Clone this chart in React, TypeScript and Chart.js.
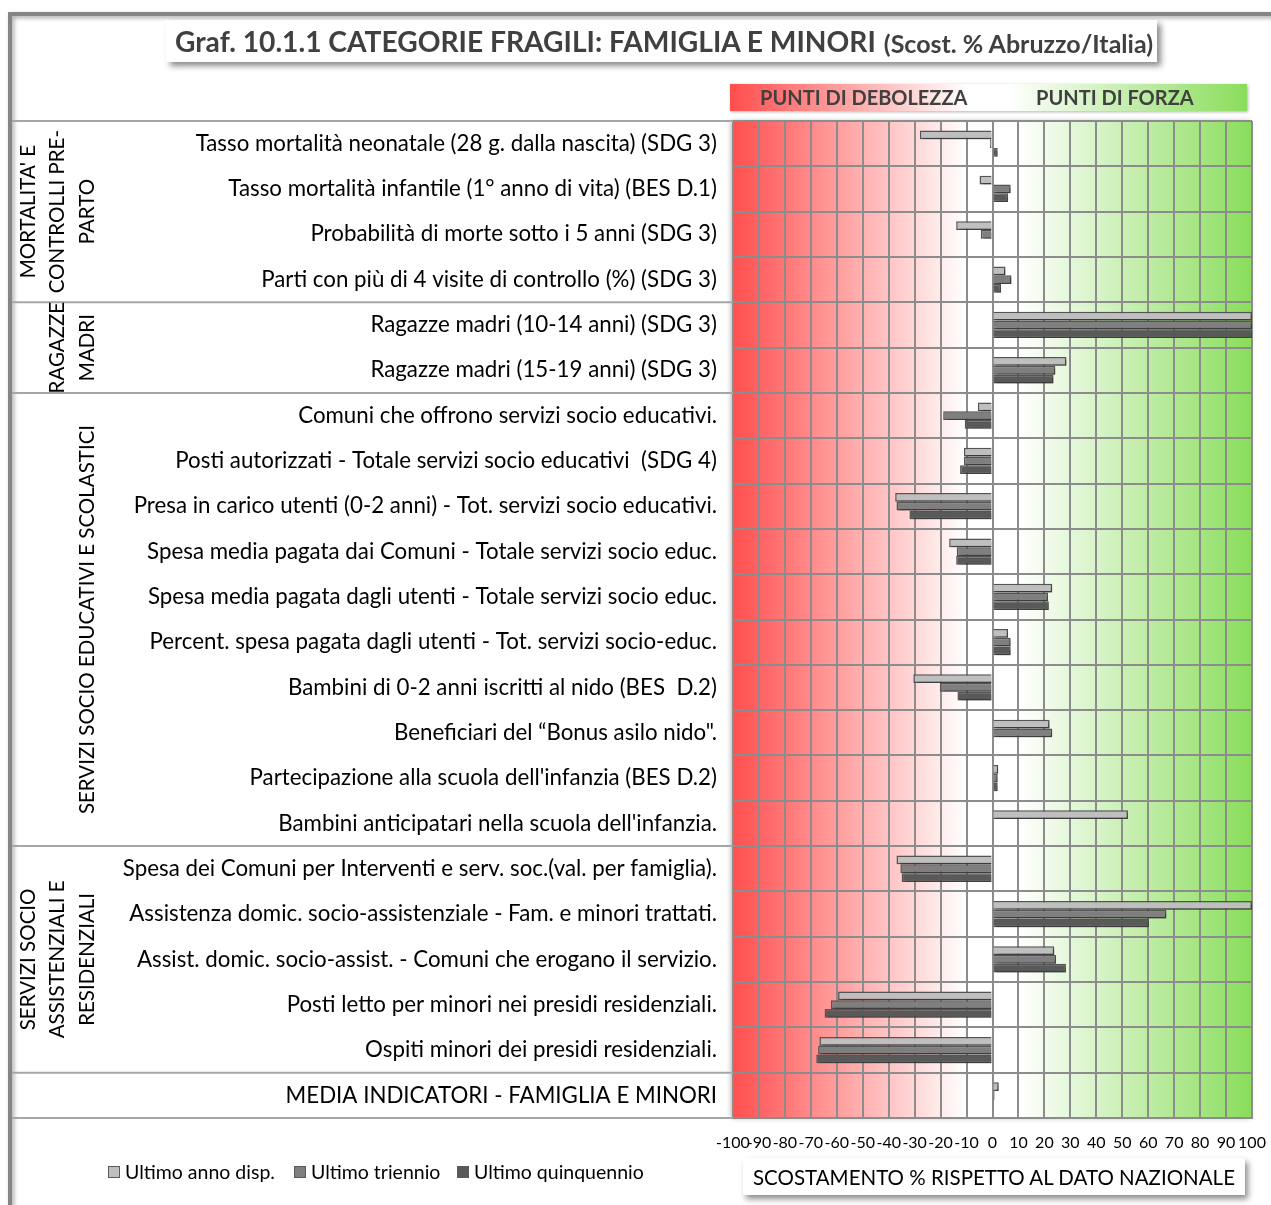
import React, { useEffect, useRef } from "react";
import { Chart, registerables } from "chart.js";

Chart.register(...registerables);

const categories = [
  "Tasso mortalità neonatale (28 g. dalla nascita) (SDG 3)",
  "Tasso mortalità infantile (1° anno di vita) (BES D.1)",
  "Probabilità di morte sotto i 5 anni (SDG 3)",
  "Parti con più di 4 visite di controllo (%) (SDG 3)",
  "Ragazze madri (10-14 anni) (SDG 3)",
  "Ragazze madri (15-19 anni) (SDG 3)",
  "Comuni che offrono servizi socio educativi.",
  "Posti autorizzati - Totale servizi socio educativi  (SDG 4)",
  "Presa in carico utenti (0-2 anni) - Tot. servizi socio educativi.",
  "Spesa media pagata dai Comuni - Totale servizi socio educ.",
  "Spesa media pagata dagli utenti - Totale servizi socio educ.",
  "Percent. spesa pagata dagli utenti - Tot. servizi socio-educ.",
  "Bambini di 0-2 anni iscritti al nido (BES  D.2)",
  "Beneficiari del \u201CBonus asilo nido\".",
  "Partecipazione alla scuola dell'infanzia (BES D.2)",
  "Bambini anticipatari nella scuola dell'infanzia.",
  "Spesa dei Comuni per Interventi e serv. soc.(val. per famiglia).",
  "Assistenza domic. socio-assistenziale - Fam. e minori trattati.",
  "Assist. domic. socio-assist. - Comuni che erogano il servizio.",
  "Posti letto per minori nei presidi residenziali.",
  "Ospiti minori dei presidi residenziali.",
  "MEDIA INDICATORI - FAMIGLIA E MINORI",
];

const seriesNames = ["Ultimo anno disp.", "Ultimo triennio", "Ultimo quinquennio"];

const lastYear = [-28, -5, -14, 5, 100, 28.5, -5.6, -11, -37.5, -16.7, 23, 6, -30.5, 22, 2.2, 52.2, -37, 100, 23.8, -59.5, -66.7, 2.4];
const lastTriennium = [-1, 7, -4.5, 7.3, 100, 24.2, -19, -11, -37, -13.8, 21.4, 7, -20.3, 23, 2, null, -35.5, 67, 24.5, -62.3, -67.2, 0.8];
const lastQuinquennium = [2, 6, 0.5, 3.3, 100, 23.5, -10.7, -12.5, -32, -14, 21.7, 7, -13.5, null, 2, null, -35, 60.3, 28.3, -64.7, -67.9, 0.5];

const groupLabels = [
  ["MORTALITA' E", "CONTROLLI PRE-", "PARTO"],
  ["RAGAZZE", "MADRI"],
  ["SERVIZI SOCIO EDUCATIVI E SCOLASTICI"],
  ["SERVIZI SOCIO", "ASSISTENZIALI E", "RESIDENZIALI"],
  [],
];
const groupSizes = [4, 2, 10, 5, 1];

const xMin = -100;
const xMax = 100;
const xStep = 10;

const seriesColors = ["#BFBFBF", "#7F7F7F", "#595959"];

const FONT = "Lato, 'Open Sans', sans-serif";

export default function App() {
  const ref = useRef<HTMLCanvasElement | null>(null);

  useEffect(() => {
    document.body.style.margin = "0";
    let chart: Chart | null = null;
    let cancelled = false;

    const make = () => {
      if (cancelled || !ref.current) return;
      const bgPlugin = {
        id: "bgPlugin",
        beforeDraw(c: any) {
          const { ctx, chartArea } = c;
          const { left, right, top, bottom } = chartArea;
          ctx.save();
          ctx.shadowColor = "rgba(0,0,0,0.35)";
          ctx.shadowBlur = 4;
          ctx.shadowOffsetX = 2;
          ctx.shadowOffsetY = 2;
          ctx.strokeStyle = "#858585";
          ctx.lineWidth = 4;
          ctx.beginPath();
          ctx.moveTo(10, 1210);
          ctx.lineTo(10, 14);
          ctx.lineTo(1280, 14);
          ctx.stroke();
          ctx.restore();
          const g = ctx.createLinearGradient(left, 0, right, 0);
          g.addColorStop(0, "#FF4F4F");
          g.addColorStop(0.45, "#FFFFFF");
          g.addColorStop(0.55, "#FFFFFF");
          g.addColorStop(1, "#8ADD5C");
          ctx.save();
          ctx.shadowColor = "rgba(0,0,0,0.3)";
          ctx.shadowBlur = 5;
          ctx.shadowOffsetX = -2;
          ctx.fillStyle = g;
          ctx.fillRect(left, top, right - left, bottom - top);
          ctx.restore();
        },
      };
      const shadowPlugin = {
        id: "shadowPlugin",
        beforeDatasetsDraw(c: any) {
          const ctx = c.ctx;
          ctx.save();
          ctx.shadowColor = "rgba(0,0,0,0.35)";
          ctx.shadowBlur = 3;
          ctx.shadowOffsetX = 2;
          ctx.shadowOffsetY = 2;
        },
        afterDatasetsDraw(c: any) {
          c.ctx.restore();
        },
      };
      const groupPlugin = {
        id: "groupPlugin",
        afterDraw(c: any) {
          const { ctx, chartArea } = c;
          const ys = c.scales.y;
          const n = categories.length;
          const h = (ys.bottom - ys.top) / n;
          ctx.save();
          ctx.strokeStyle = "#A6A6A6";
          ctx.lineWidth = 2;
          let idx = 0;
          const bounds = [ys.top];
          groupSizes.forEach((s) => {
            idx += s;
            bounds.push(ys.top + idx * h);
          });
          bounds.forEach((b) => {
            ctx.beginPath();
            ctx.moveTo(12, b);
            ctx.lineTo(chartArea.left, b);
            ctx.stroke();
          });
          ctx.fillStyle = "#000";
          ctx.font = `20.5px ${FONT}`;
          ctx.textAlign = "center";
          ctx.textBaseline = "middle";
          const colX = [28, 57.5, 87];
          groupLabels.forEach((lines, gi) => {
            const cy = (bounds[gi] + bounds[gi + 1]) / 2;
            const startCol = colX.length - lines.length;
            lines.forEach((line, li) => {
              ctx.save();
              ctx.translate(colX[startCol + li], cy);
              ctx.rotate(-Math.PI / 2);
              ctx.fillText(line, 0, 0);
              ctx.restore();
            });
          });
          ctx.restore();
        },
      };

      chart = new Chart(ref.current, {
        type: "bar",
        data: {
          labels: categories,
          datasets: [lastYear, lastTriennium, lastQuinquennium].map((d, i) => ({
            label: seriesNames[i],
            data: d,
            backgroundColor: seriesColors[i],
            borderColor: "#555555",
            borderWidth: 1.5,
            categoryPercentage: 0.58,
            barPercentage: 1,
          })),
        },
        options: {
          indexAxis: "y",
          animation: false,
          responsive: false,
          maintainAspectRatio: false,
          layout: { padding: { top: 121, right: 19, left: 0, bottom: 0 } },
          plugins: {
            legend: { display: false },
            tooltip: { enabled: false },
          },
          scales: {
            x: {
              type: "linear",
              min: xMin,
              max: xMax,
              afterFit: (s: any) => {
                s.height = 87;
              },
              ticks: {
                stepSize: xStep,
                autoSkip: false,
                maxRotation: 0,
                color: "#000",
                padding: 0,
                font: { family: FONT, size: 16 },
              },
              grid: { color: "#8C8C8C", lineWidth: 2, drawTicks: true, tickLength: 15, tickColor: "rgba(0,0,0,0)" },
              border: { color: "#8C8C8C", width: 2 },
            },
            y: {
              type: "category",
              afterFit: (s: any) => {
                s.width = 733;
              },
              ticks: {
                autoSkip: false,
                color: "#000",
                padding: 16,
                font: { family: FONT, size: 22.3 },
              },
              grid: { color: "#8C8C8C", lineWidth: 2, offset: true, drawTicks: false },
              border: { color: "#8C8C8C", width: 2 },
            },
          },
        },
        plugins: [bgPlugin, shadowPlugin, groupPlugin],
      } as any);
    };

    const fontsReady = (document as any).fonts
      ? Promise.all([
          (document as any).fonts.load(`20px Lato`),
          (document as any).fonts.load(`bold 20px Lato`),
        ]).catch(() => null)
      : Promise.resolve(null);
    fontsReady.then(make);

    return () => {
      cancelled = true;
      if (chart) chart.destroy();
    };
  }, []);

  const legendX = [108, 294, 457];

  return (
    <div style={{ position: "relative", width: 1271, height: 1205, overflow: "hidden", background: "#fff", fontFamily: FONT }}>
      <canvas ref={ref} width={1271} height={1205} style={{ position: "absolute", left: 0, top: 0, width: 1271, height: 1205 }} />
      <div
        style={{
          position: "absolute",
          left: 166,
          top: 20,
          width: 991,
          height: 42,
          background: "#fff",
          boxShadow: "4px 4px 6px rgba(0,0,0,0.45)",
          display: "flex",
          alignItems: "center",
          paddingLeft: 9,
          boxSizing: "border-box",
          color: "#404040",
          fontWeight: 700,
          whiteSpace: "nowrap",
        }}
      >
        <span style={{ fontSize: 28.2 }}>Graf. 10.1.1 CATEGORIE FRAGILI: FAMIGLIA E MINORI</span>
        <span style={{ fontSize: 25, marginLeft: 8, marginTop: 3 }}>(Scost. % Abruzzo/Italia)</span>
      </div>
      <div
        style={{
          position: "absolute",
          left: 730,
          top: 84,
          width: 517,
          height: 27,
          background: "linear-gradient(to right, #FF4D4D 0%, #FFFFFF 46%, #FFFFFF 54%, #8ADD5C 100%)",
          boxShadow: "1px 1px 3px rgba(0,0,0,0.3)",
          color: "#404040",
          fontWeight: 700,
          fontSize: 20,
          whiteSpace: "nowrap",
        }}
      >
        <span style={{ position: "absolute", left: 30, top: 1 }}>PUNTI DI DEBOLEZZA</span>
        <span style={{ position: "absolute", left: 306, top: 1 }}>PUNTI DI FORZA</span>
      </div>
      <div
        style={{
          position: "absolute",
          left: 743,
          top: 1158,
          width: 502,
          height: 37,
          background: "#fff",
          boxShadow: "3px 4px 6px rgba(0,0,0,0.45)",
          display: "flex",
          alignItems: "center",
          justifyContent: "center",
          fontSize: 20.5,
          color: "#000",
          whiteSpace: "nowrap",
        }}
      >
        SCOSTAMENTO % RISPETTO AL DATO NAZIONALE
      </div>
      {seriesNames.map((name, i) => (
        <div
          key={name}
          style={{ position: "absolute", left: legendX[i], top: 1160, display: "flex", alignItems: "center", fontSize: 19.5, color: "#000", whiteSpace: "nowrap" }}
        >
          <span style={{ display: "inline-block", width: 10, height: 10, background: seriesColors[i], border: "1px solid #5A5A5A", marginRight: 5 }} />
          {name}
        </div>
      ))}
    </div>
  );
}
